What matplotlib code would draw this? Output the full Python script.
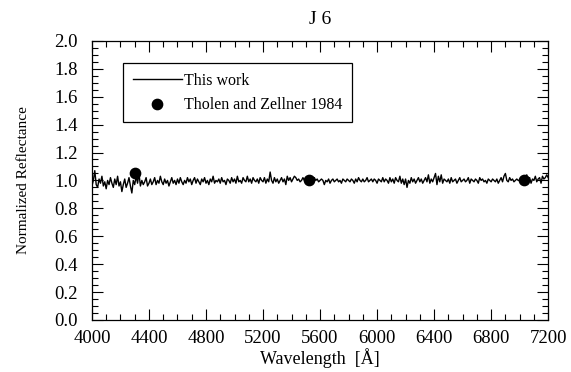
import numpy as np
import matplotlib
matplotlib.use("Agg")
import matplotlib.pyplot as plt
from matplotlib.ticker import MultipleLocator, FormatStrFormatter

plt.rcParams['font.family'] = ['Liberation Serif', 'DejaVu Serif']

# Spectrum ("This work"), sampled every 10 A from 4000 to 7200 A
wave_start, wave_stop, wave_step = 4000, 7200, 10
this_work = [
    0.96, 1.00, 1.07, 0.97, 0.95, 1.01, 0.98, 1.03, 0.96, 0.99,
    0.94, 1.00, 0.97, 1.02, 0.98, 0.95, 1.01, 0.97, 1.03, 0.96,
    0.99, 0.92, 0.97, 1.01, 0.95, 0.98, 1.02, 0.96, 0.91, 1.00,
    0.97, 1.03, 0.98, 1.05, 0.96, 1.00, 0.97, 0.99, 1.02, 0.96,
    0.98, 1.01, 0.97, 0.99, 1.02, 0.97, 1.00, 0.98, 1.03, 0.99,
    0.97, 1.01, 0.98, 1.00, 0.96, 0.99, 1.02, 0.98, 1.00, 0.97,
    1.01, 0.98, 1.02, 0.99, 0.97, 1.00, 0.98, 1.02, 0.99, 1.01,
    0.97, 1.00, 1.02, 0.98, 1.01, 0.99, 0.97, 1.01, 0.99, 1.02,
    0.98, 1.00, 0.97, 1.01, 0.99, 1.03, 0.98, 1.00, 0.99, 1.01,
    0.98, 1.02, 0.99, 1.00, 0.97, 1.01, 1.00, 0.98, 1.02, 0.99,
    1.01, 0.98, 1.03, 0.99, 1.00, 0.98, 1.02, 1.00, 0.99, 1.03,
    0.99, 1.01, 0.98, 1.02, 1.00, 0.99, 1.01, 0.98, 1.02, 1.00,
    0.99, 1.02, 0.98, 1.01, 0.99, 1.06, 1.00, 0.98, 1.02, 0.99,
    1.01, 0.98, 1.00, 1.02, 0.99, 1.01, 0.97, 1.03, 1.00, 1.02,
    0.99, 1.01, 1.03, 1.02, 1.00, 1.01, 0.99, 1.00, 1.02, 1.00,
    0.99, 1.01, 1.00, 1.02, 0.99, 1.01, 1.02, 1.00, 1.01, 0.99,
    1.00, 1.01, 1.00, 0.97, 1.00, 0.99, 1.01, 0.98, 1.00, 1.01,
    0.99, 1.00, 1.01, 0.99, 1.00, 0.98, 1.01, 1.00, 0.99, 1.01,
    1.00, 0.99, 1.01, 1.00, 0.98, 1.01, 0.99, 1.02, 1.00, 0.99,
    1.01, 0.99, 1.00, 1.02, 0.99, 1.00, 1.01, 0.99, 1.01, 1.00,
    0.98, 1.01, 1.00, 0.99, 1.02, 0.99, 1.01, 1.00, 0.98, 1.02,
    0.99, 1.01, 0.98, 1.02, 1.00, 0.99, 1.03, 0.98, 1.01, 0.97,
    1.01, 0.95, 1.00, 0.98, 1.02, 0.99, 1.01, 0.98, 1.00, 1.02,
    0.99, 1.01, 0.98, 1.00, 1.02, 0.99, 1.04, 0.98, 1.01, 0.99,
    1.02, 1.05, 0.97, 1.03, 0.99, 1.04, 0.98, 1.01, 1.00, 0.99,
    1.01, 0.98, 1.02, 0.99, 1.00, 1.01, 0.98, 1.00, 1.02, 0.99,
    1.00, 1.01, 0.99, 1.00, 1.02, 0.98, 1.01, 1.00, 0.99, 1.01,
    1.00, 0.98, 1.02, 1.00, 1.01, 0.99, 1.00, 0.98, 1.01, 1.00,
    0.99, 1.01, 1.00, 0.99, 1.01, 0.98, 1.00, 1.02, 0.99, 1.03,
    1.05, 1.00, 0.99, 1.02, 1.00, 1.01, 0.99, 1.00, 1.01, 1.00,
    1.00, 1.02, 0.99, 1.03, 1.01, 1.04, 0.99, 1.02, 0.98, 1.01,
    1.00, 1.03, 0.99, 1.01, 1.02, 0.98, 1.03, 1.01, 1.02, 1.04,
    1.02,
]
wavelength = np.arange(wave_start, wave_stop + 1, wave_step)[:len(this_work)]

# Tholen and Zellner 1984 points
tz_wave = [4300, 5520, 7030]
tz_refl = [1.05, 1.00, 1.00]

title = "J 6"
xlabel = "Wavelength  [Å]"
ylabel = "Normalized Reflectance"

fig = plt.figure(figsize=(5.71, 3.72), dpi=100)
ax = fig.add_axes([0.161, 0.140, 0.799, 0.750])

ax.plot(wavelength, this_work, color='black', lw=1.0, label='This work')
ax.scatter(tz_wave, tz_refl, s=55, color='black', zorder=3, label='Tholen and Zellner 1984')

ax.set_xlim(4000, 7200)
ax.set_ylim(0.0, 2.0)
ax.xaxis.set_major_locator(MultipleLocator(400))
ax.xaxis.set_minor_locator(MultipleLocator(100))
ax.yaxis.set_major_locator(MultipleLocator(0.2))
ax.yaxis.set_minor_locator(MultipleLocator(0.05))
ax.yaxis.set_major_formatter(FormatStrFormatter('%.1f'))
ax.tick_params(which='both', direction='in', top=True, right=True, width=0.8)
ax.tick_params(which='major', length=8, labelsize=13.5)
ax.tick_params(axis='x', which='major', pad=7)
ax.tick_params(axis='y', which='major', pad=10)
ax.tick_params(which='minor', length=4)
for s in ax.spines.values():
    s.set_linewidth(0.9)

ax.set_title(title, fontsize=14, pad=12)
ax.set_xlabel(xlabel, fontsize=13, labelpad=1)
ax.set_ylabel(ylabel, fontsize=11, labelpad=18)

leg = ax.legend(loc='upper left', bbox_to_anchor=(0.068, 0.921), borderaxespad=0,
                fancybox=False, edgecolor='black', framealpha=1, fontsize=11.5,
                handlelength=3.1, handletextpad=0.15, borderpad=0.6, labelspacing=0.5)
leg.get_frame().set_linewidth(0.9)

fig.savefig("out.png", dpi=100)
